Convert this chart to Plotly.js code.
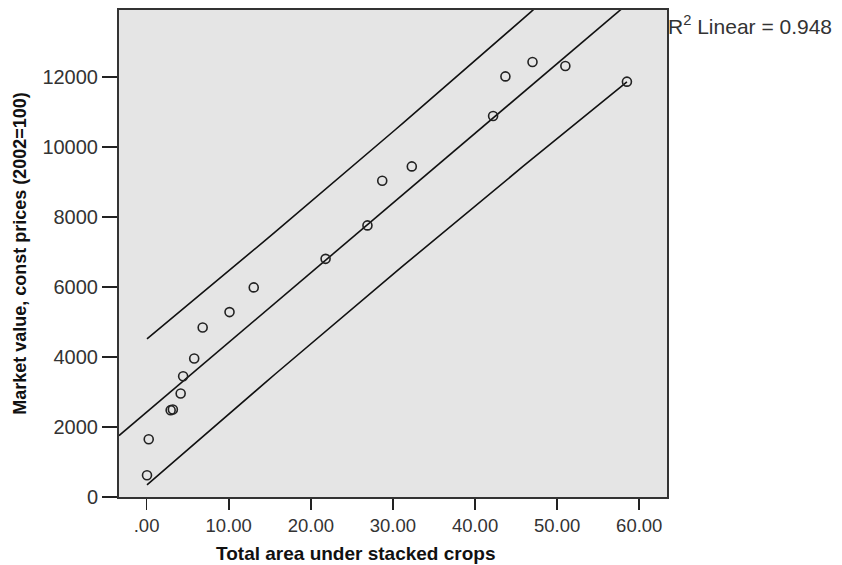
<!DOCTYPE html>
<html>
<head>
<meta charset="utf-8">
<script src="https://cdn.plot.ly/plotly-3.0.1.min.js"></script>
<style>html,body{margin:0;padding:0;background:#fff;}#chart{width:842px;height:565px;}</style>
</head>
<body>
<div id="chart"></div>
<script>
// Data
const areaStacked = [0.05, 0.26, 2.93, 3.2, 4.15, 4.45, 5.8, 6.83, 10.1, 13.05, 21.8, 26.9, 28.7, 32.3, 42.2, 43.7, 47.0, 51.0, 58.5];
const marketValue = [620, 1650, 2480, 2500, 2955, 3450, 3955, 4840, 5280, 5985, 6800, 7755, 9030, 9440, 10880, 12010, 12420, 12306, 11860];
const xTickVals = [0, 10, 20, 30, 40, 50, 60];
const xTickText = ['.00', '10.00', '20.00', '30.00', '40.00', '50.00', '60.00'];
const yTickVals = [0, 2000, 4000, 6000, 8000, 10000, 12000];
const yTickText = ['0', '2000', '4000', '6000', '8000', '10000', '12000'];
const xTitle = 'Total area under stacked crops';
const yTitle = 'Market value, const prices (2002=100)';
const r2Label = 'R<sup>2</sup> Linear = 0.948';
const xRange = [-3.36, 63.38];
const yRange = [0, 13906];
const tCrit = 2.110; // t(0.975, df = n-2 = 17)

// Least-squares fit and 95% prediction interval from the data
const n = areaStacked.length;
const mx = areaStacked.reduce((a, b) => a + b, 0) / n;
const my = marketValue.reduce((a, b) => a + b, 0) / n;
let sxx = 0, sxy = 0;
for (let i = 0; i < n; i++) { sxx += (areaStacked[i] - mx) ** 2; sxy += (areaStacked[i] - mx) * (marketValue[i] - my); }
const slope = sxy / sxx, intercept = my - slope * mx;
let sse = 0;
for (let i = 0; i < n; i++) { sse += (marketValue[i] - (intercept + slope * areaStacked[i])) ** 2; }
const s = Math.sqrt(sse / (n - 2));
const fitX = [xRange[0], xRange[1]];
const fitY = fitX.map(x => intercept + slope * x);
const xmin = Math.min(...areaStacked), xmax = Math.max(...areaStacked);
const piX = [], piLo = [], piHi = [];
for (let k = 0; k <= 60; k++) {
  const x = xmin + (xmax - xmin) * k / 60;
  const h = tCrit * s * Math.sqrt(1 + 1 / n + (x - mx) ** 2 / sxx);
  const yh = intercept + slope * x;
  piX.push(x); piLo.push(yh - h); piHi.push(yh + h);
}

const lineStyle = {color: '#111', width: 1.6};
const traces = [
  {x: fitX, y: fitY, mode: 'lines', line: lineStyle, hoverinfo: 'skip', showlegend: false},
  {x: piX, y: piHi, mode: 'lines', line: lineStyle, hoverinfo: 'skip', showlegend: false},
  {x: piX, y: piLo, mode: 'lines', line: lineStyle, hoverinfo: 'skip', showlegend: false},
  {x: areaStacked, y: marketValue, mode: 'markers', showlegend: false,
   marker: {symbol: 'circle-open', size: 9, color: '#222', line: {width: 1.6, color: '#222'}}}
];

const fam = 'Liberation Sans, Arial, sans-serif';
const layout = {
  width: 842, height: 565,
  margin: {l: 119, r: 175, t: 10, b: 68, pad: 0},
  paper_bgcolor: '#ffffff', plot_bgcolor: '#e5e5e5',
  showlegend: false,
  xaxis: {range: xRange, tickvals: xTickVals, ticktext: xTickText, ticks: 'outside', ticklen: 11, tickwidth: 1.6,
    tickcolor: '#222', showgrid: false, zeroline: false, showline: true, mirror: true, linecolor: '#333', linewidth: 2,
    tickfont: {family: fam, size: 18.5, color: '#333'}, fixedrange: true},
  yaxis: {range: yRange, tickvals: yTickVals, ticktext: yTickText, ticks: 'outside', ticklen: 15, tickwidth: 1.6,
    tickcolor: '#222', showgrid: false, zeroline: false, showline: true, mirror: true, linecolor: '#333', linewidth: 2,
    tickfont: {family: fam, size: 20, color: '#333'}, fixedrange: true,
    title: {text: yTitle, font: {family: fam, size: 18, color: '#111', weight: 'bold'}, standoff: 11}},
  annotations: [
    {text: '<b>' + xTitle + '</b>', xref: 'paper', yref: 'paper', x: 0.431, y: 0, yshift: -56,
     xanchor: 'center', yanchor: 'middle', showarrow: false,
     font: {family: fam, size: 19, color: '#111'}},
    {text: r2Label, xref: 'paper', yref: 'paper', x: 1, y: 1, xshift: -1, yshift: -15,
     xanchor: 'left', yanchor: 'middle', showarrow: false,
     font: {family: fam, size: 21, color: '#333'}}
  ]
};
Plotly.newPlot('chart', traces, layout, {displayModeBar: false, staticPlot: true});
</script>
</body>
</html>
